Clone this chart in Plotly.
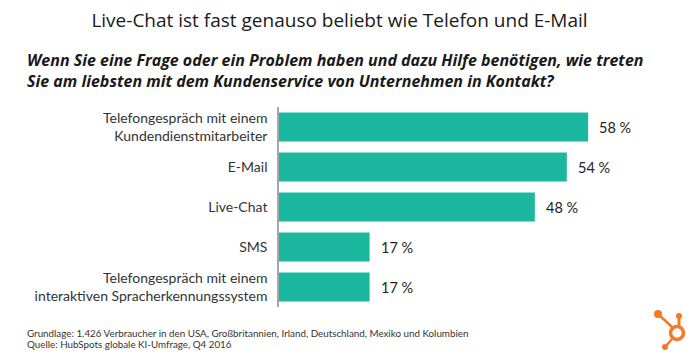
import plotly.graph_objects as go

categories = [
    "Telefongespräch mit einem<br>Kundendienstmitarbeiter",
    "E-Mail",
    "Live-Chat",
    "SMS",
    "Telefongespräch mit einem<br>interaktiven Spracherkennungssystem",
]
values = [58, 54, 48, 17, 17]
value_labels = [f"{v} %" for v in values]

title_text = "Live-Chat ist fast genauso beliebt wie Telefon und E-Mail"
subtitle_lines = [
    "Wenn Sie eine Frage oder ein Problem haben und dazu Hilfe benötigen, wie treten",
    "Sie am liebsten mit dem Kundenservice von Unternehmen in Kontakt?",
]
footer_lines = [
    "Grundlage: 1.426 Verbraucher in den USA, Großbritannien, Irland, Deutschland, Mexiko und Kolumbien",
    "Quelle: HubSpots globale KI-Umfrage, Q4 2016",
]

# page body has an 8px default margin -> compensate
OFF = 8
W, H = 700 - OFF, 360 - OFF
# reference-pixel geometry of the plot area
L_REF, R_REF, T_REF, B_REF = 279, 690, 107, 307
ML, MT = L_REF - OFF, T_REF - OFF
MR, MB = W - (R_REF - OFF), H - (B_REF - OFF)
PW, PH = R_REF - L_REF, B_REF - T_REF


def px(x):
    return (x - L_REF) / PW


def py(y):
    return (B_REF - y) / PH


teal = "#1bb89f"
orange = "#f47a24"

fig = go.Figure(
    go.Bar(
        x=values,
        y=categories,
        orientation="h",
        marker=dict(color=teal, line=dict(width=0)),
        hoverinfo="skip",
    )
)

annotations = []
for c, v, t in zip(categories, values, value_labels):
    annotations.append(dict(
        x=v, y=c, xref="x", yref="y", text=t, showarrow=False,
        xanchor="left", yanchor="middle", xshift=9,
        font=dict(family="Lato", size=14.5, color="#222222"),
    ))

annotations.append(dict(
    x=px(25), y=py(47), xref="paper", yref="paper",
    text="<br>".join(f"<b><i>{l}</i></b>" for l in subtitle_lines),
    showarrow=False, xanchor="left", yanchor="top", align="left",
    font=dict(family="Open Sans", size=16, color="#1a1a1a"),
))
for i, l in enumerate(footer_lines):
    annotations.append(dict(
        x=px(25), y=py(333 + i * 11), xref="paper", yref="paper",
        text=l, showarrow=False, xanchor="left", yanchor="middle",
        font=dict(family="Lato", size=9.8, color="#333333"),
    ))


# HubSpot sprocket logo (decorative)
def dot(cx, cy, r):
    return dict(type="circle", xref="paper", yref="paper",
                x0=px(cx - r), x1=px(cx + r), y0=py(cy + r), y1=py(cy - r),
                line=dict(width=0), fillcolor=orange, layer="above")


def seg(x0, y0, x1, y1, w=2.5):
    return dict(type="line", xref="paper", yref="paper",
                x0=px(x0), y0=py(y0), x1=px(x1), y1=py(y1),
                line=dict(color=orange, width=w), layer="above")


shapes = [
    seg(658, 314, 672, 327),
    seg(679, 317, 679, 326, 3),
    seg(666, 346, 672, 339),
    dict(type="circle", xref="paper", yref="paper",
         x0=px(670.5), x1=px(683.5), y0=py(339.5), y1=py(326.5),
         line=dict(color=orange, width=3.5), fillcolor="white", layer="above"),
    dot(658, 314, 4),
    dot(679, 316, 3),
    dot(665, 347, 3),
]

fig.update_layout(
    width=W, height=H,
    margin=dict(l=ML, r=MR, t=MT, b=MB, autoexpand=False),
    paper_bgcolor="white", plot_bgcolor="white",
    showlegend=False,
    bargap=0.275,
    title=dict(
        text=title_text, x=(339.5 - OFF) / W, xanchor="center",
        y=1 - (20 - OFF) / H, yanchor="middle", yref="container",
        font=dict(family="Open Sans", size=19, color="#1a1a1a"),
    ),
    xaxis=dict(range=[0, PW / 5.33], visible=False, fixedrange=True),
    yaxis=dict(
        autorange="reversed", showgrid=False, zeroline=False,
        showline=True, linecolor="#a8a8a8", linewidth=1.5,
        ticks="", ticklabelstandoff=7, automargin=False,
        tickfont=dict(family="Lato", size=14, color="#333333"),
        fixedrange=True,
    ),
    annotations=annotations,
    shapes=shapes,
)

fig.write_html("out.html")
